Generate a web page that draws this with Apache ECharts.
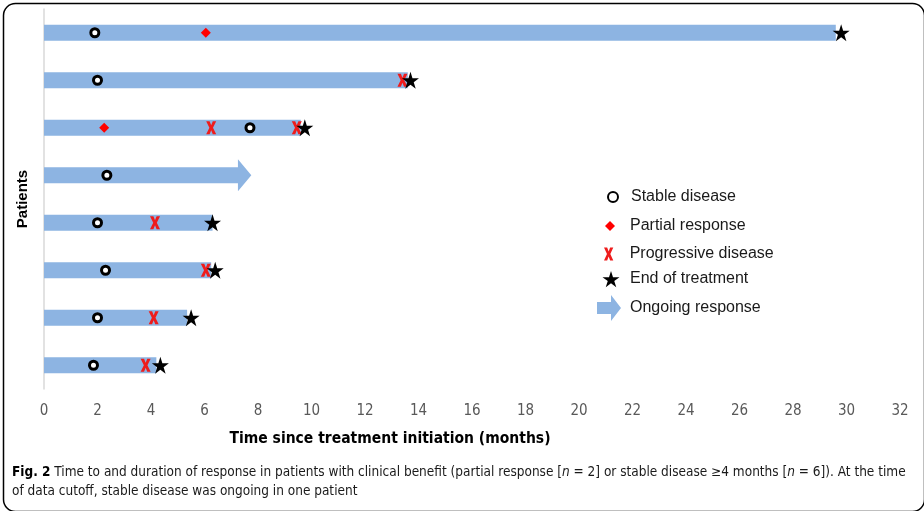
<!DOCTYPE html>
<html>
<head>
<meta charset="utf-8">
<script src="https://cdn.jsdelivr.net/npm/echarts@6/dist/echarts.min.js"></script>
<style>html,body{margin:0;padding:0;background:#fff;}#c{width:924px;height:511px;}</style>
</head>
<body>
<div id="c"></div>
<script>
// ---- data ----
const patients = ['P1','P2','P3','P4','P5','P6','P7','P8'];
const barEnd = [29.6, 13.6, 9.6, 7.25, 6.3, 6.25, 5.35, 4.2];
const arrowTip = [0, 0, 0, 7.75, 0, 0, 0, 0];
const stableDisease = [[1.9,0],[2.0,1],[7.7,2],[2.35,3],[2.0,4],[2.3,5],[2.0,6],[1.85,7]];
const partialResponse = [[6.05,0],[2.25,2]];
const progressiveDisease = [[13.4,1],[6.25,2],[9.45,2],[4.15,4],[6.05,5],[4.1,6],[3.8,7]];
const endOfTreatment = [[29.8,0],[13.7,1],[9.75,2],[6.3,4],[6.4,5],[5.5,6],[4.35,7]];
const xTicks = {min: 0, max: 32, interval: 2};

const NARROW = '"Liberation Sans Narrow","DejaVu Sans Condensed","Liberation Sans",Arial,sans-serif';
const SANS = '"Liberation Sans",Arial,sans-serif';
const BAR = '#8db4e2';
const STAR = 'path://M50,0 L61.2,34.5 L97.6,34.5 L68.2,55.9 L79.4,90.5 L50,69.1 L20.6,90.5 L31.8,55.9 L2.4,34.5 L38.8,34.5 Z';
const XMARK = 'path://M0,0 L3.4,0 L5,4.4 L6.6,0 L10,0 L6.8,7 L10,14 L6.6,14 L5,9.6 L3.4,14 L0,14 L3.2,7 Z';
const ARROW = 'path://M0,7 L14,7 L14,0 L24,13 L14,26 L14,19 L0,19 Z';

const barData = patients.map((p, i) => [barEnd[i], i, arrowTip[i]]);

const chart = echarts.init(document.getElementById('c'), null, {renderer: 'canvas'});

// legend placed so icon centre = cx, text starts at x = 630, vertical centre = cy
function legendAt(name, cx, cy, w, h, icon) {
  const d = {name: name};
  if (icon) d.icon = icon;
  const left = cx - w / 2;
  const pad = 630 - (left + w + 5);
  const boxH = Math.max(h, 18);
  return {
    data: [d], left: left, top: cy - boxH / 2 + 3, orient: 'vertical', padding: 0,
    itemWidth: w, itemHeight: h, selectedMode: false,
    textStyle: {fontFamily: SANS, fontSize: 16, color: '#1a1a1a', padding: [0, 0, 0, pad]}
  };
}

chart.setOption({
  animation: false,
  backgroundColor: '#fff',
  grid: {left: 44, right: 24, top: 9, bottom: 122, containLabel: false},
  xAxis: {
    type: 'value', min: xTicks.min, max: xTicks.max, interval: xTicks.interval,
    axisLine: {show: false}, axisTick: {show: false}, splitLine: {show: false},
    axisLabel: {fontFamily: NARROW, fontSize: 15, color: '#595959', margin: 15},
    name: 'Time since treatment initiation (months)', nameLocation: 'middle', nameGap: 42,
    nameTextStyle: {fontFamily: NARROW, fontSize: 15.5, fontWeight: 'bold', color: '#000', padding: [0, 164, 0, 0]}
  },
  yAxis: {
    type: 'category', data: patients, inverse: true,
    axisLine: {show: true, lineStyle: {color: '#d9d9d9', width: 1.5}},
    axisTick: {show: false}, axisLabel: {show: false}, splitLine: {show: false},
    name: 'Patients', nameLocation: 'middle', nameGap: 14, nameRotate: 90,
    nameTextStyle: {fontFamily: SANS, fontSize: 15, fontWeight: 'bold', color: '#000'}
  },
  legend: [
    legendAt('Stable disease', 612, 195, 10, 10, 'circle'),
    legendAt('Partial response', 610, 224, 10, 10, 'diamond'),
    legendAt('Progressive disease', 609, 252, 10, 13, XMARK),
    legendAt('End of treatment', 611, 277, 17, 17, STAR),
    legendAt('Ongoing response', 609, 305, 24, 26, ARROW)
  ],
  series: [
    {
      name: 'Ongoing response', type: 'custom', data: barData,
      itemStyle: {color: BAR},
      encode: {x: [0, 2], y: 1},
      renderItem: function (params, api) {
        const row = api.value(1);
        const p0 = api.coord([0, row]);
        const p1 = api.coord([api.value(0), row]);
        const h = 16;
        const tip = api.value(2);
        if (tip > 0) {
          const pt = api.coord([tip, row]);
          const hh = 16;
          return {
            type: 'polygon',
            shape: {points: [
              [p0[0], p0[1] - h / 2], [p1[0], p1[1] - h / 2], [p1[0], p1[1] - hh],
              [pt[0], pt[1]], [p1[0], p1[1] + hh], [p1[0], p1[1] + h / 2], [p0[0], p0[1] + h / 2]
            ]},
            style: {fill: BAR}
          };
        }
        return {
          type: 'rect',
          shape: {x: p0[0], y: p0[1] - h / 2, width: p1[0] - p0[0], height: h},
          style: {fill: BAR}
        };
      }
    },
    {
      name: 'Stable disease', type: 'scatter', data: stableDisease, symbol: 'circle', symbolSize: 8,
      itemStyle: {color: '#fff', borderColor: '#000', borderWidth: 3, opacity: 1}
    },
    {
      name: 'Partial response', type: 'scatter', data: partialResponse, symbol: 'diamond', symbolSize: [10, 10],
      itemStyle: {color: '#ff0000', opacity: 1}
    },
    {
      name: 'Progressive disease', type: 'scatter', data: progressiveDisease, symbol: XMARK, symbolSize: [10, 13],
      itemStyle: {color: '#ee1c1c', opacity: 1}
    },
    {
      name: 'End of treatment', type: 'scatter', data: endOfTreatment, symbol: STAR, symbolSize: 17,
      itemStyle: {color: '#000', opacity: 1}
    }
  ],
  graphic: [
    {
      type: 'rect', left: 1, top: 1, z: -1, silent: true,
      shape: {width: 921, height: 508, r: 12},
      style: {fill: 'none', stroke: '#000', lineWidth: 1.5}
    },
    {
      type: 'text', left: 12, top: 463, silent: true,
      style: {
        text: '{b|Fig. 2} Time to and duration of response in patients with clinical benefit (partial response [{i|n} = 2] or stable disease ≥4 months [{i|n} = 6]). At the time\nof data cutoff, stable disease was ongoing in one patient',
        font: '13.5px ' + NARROW, fill: '#1a1a1a', lineHeight: 19,
        rich: {
          b: {fontWeight: 'bold', fontFamily: NARROW, fontSize: 13.5, fill: '#000'},
          i: {fontStyle: 'italic', fontFamily: NARROW, fontSize: 13.5}
        }
      }
    }
  ]
});
</script>
</body>
</html>
